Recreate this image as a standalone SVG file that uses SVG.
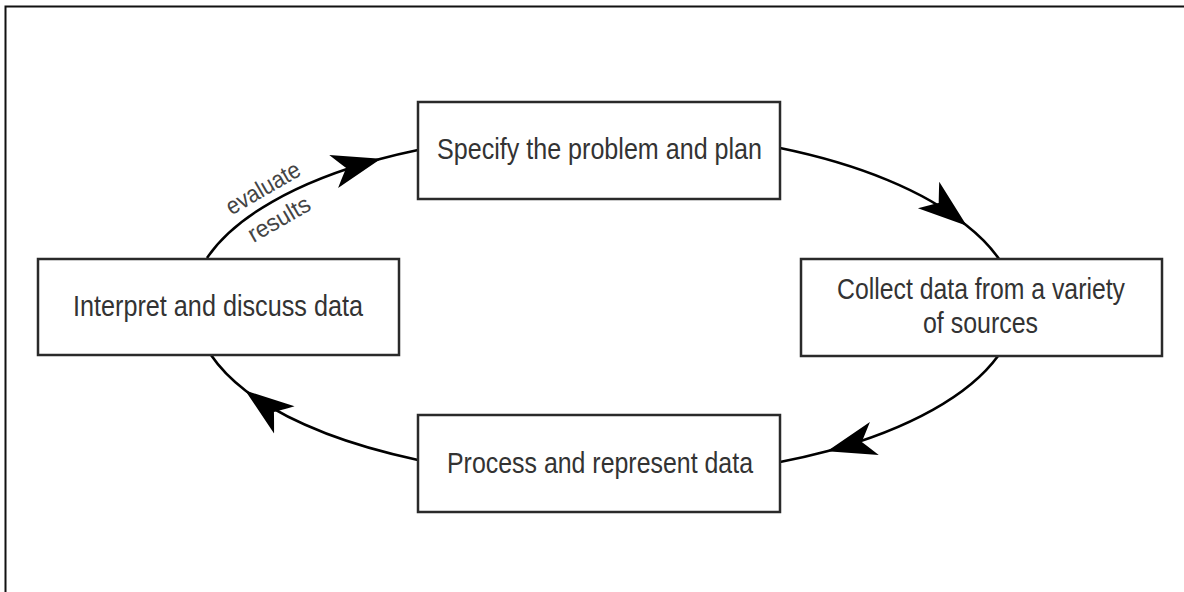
<svg xmlns="http://www.w3.org/2000/svg" width="1184" height="592" viewBox="0 0 1184 592">
  <defs>
    <marker id="arrow" markerUnits="userSpaceOnUse" orient="auto" markerWidth="60" markerHeight="40" viewBox="-55 -20 60 40" refX="0" refY="0" overflow="visible">
      <path d="M1,0 L-48,-17 Q-39,-5 -35,0 Q-39,5 -48,17 Z" fill="#000"/>
    </marker>
  </defs>
  <style>
    .box { fill: #fff; stroke: #2a2a2a; stroke-width: 2.5; }
    .lbl { font-family: "Liberation Sans", Arial, sans-serif; font-size: 30px; fill: #333; }
    .small { font-family: "Liberation Sans", Arial, sans-serif; font-size: 24px; fill: #444; }
    .conn { fill: none; stroke: #000; stroke-width: 2.6; marker-mid: url(#arrow); }
  </style>
  <rect x="0" y="0" width="1184" height="592" fill="#fff"/>
  <rect x="5.5" y="6.5" width="1200" height="600" fill="none" stroke="#111" stroke-width="2"/>

  <g id="connectors">
    <path class="conn" d="M207,258 A410,174 0 0,1 380,159 A410,174 0 0,1 418,150"/>
    <path class="conn" d="M780,148 A410,174 0 0,1 966,225 A410,174 0 0,1 999,259"/>
    <path class="conn" d="M998,356 A410,174 0 0,1 828,451 A410,174 0 0,1 780,462"/>
    <path class="conn" d="M418,460 A410,174 0 0,1 246,391 A410,174 0 0,1 211,355"/>
    <g id="edge-label">
      <text class="small" transform="translate(263,188) rotate(-30)" x="-41" y="8" textLength="82" lengthAdjust="spacingAndGlyphs">evaluate</text>
      <text class="small" transform="translate(279,219) rotate(-30)" x="-34" y="8" textLength="68" lengthAdjust="spacingAndGlyphs">results</text>
    </g>
  </g>

  <g id="node-specify">
    <rect class="box" x="418" y="102" width="362" height="97"/>
    <text class="lbl" x="437" y="159" textLength="325" lengthAdjust="spacingAndGlyphs">Specify the problem and plan</text>
  </g>
  <g id="node-collect">
    <rect class="box" x="801" y="259" width="361" height="97"/>
    <text class="lbl" x="837" y="299" textLength="288" lengthAdjust="spacingAndGlyphs">Collect data from a variety</text>
    <text class="lbl" x="923" y="333" textLength="115" lengthAdjust="spacingAndGlyphs">of sources</text>
  </g>
  <g id="node-process">
    <rect class="box" x="418" y="415" width="362" height="97"/>
    <text class="lbl" x="447" y="473" textLength="306" lengthAdjust="spacingAndGlyphs">Process and represent data</text>
  </g>
  <g id="node-interpret">
    <rect class="box" x="38" y="259" width="361" height="96"/>
    <text class="lbl" x="73" y="316" textLength="290" lengthAdjust="spacingAndGlyphs">Interpret and discuss data</text>
  </g>
</svg>
